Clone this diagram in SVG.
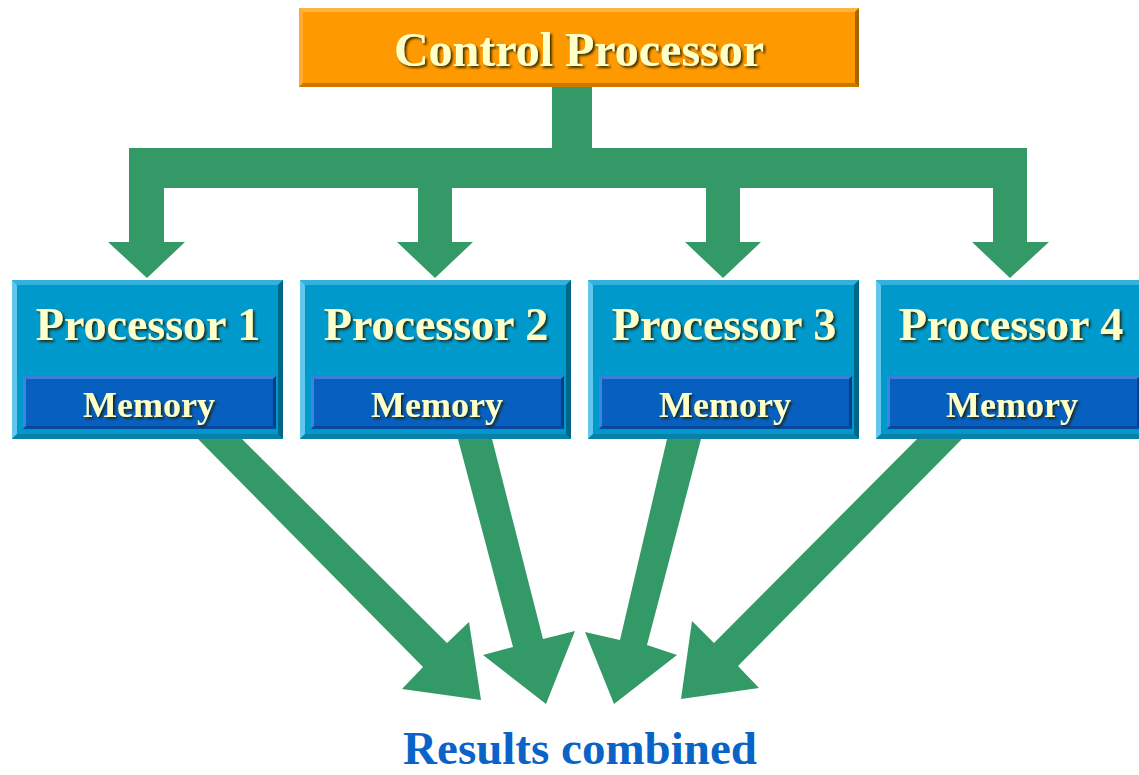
<svg xmlns="http://www.w3.org/2000/svg" xmlns:xlink="http://www.w3.org/1999/xlink" width="1139" height="775" viewBox="0 0 1139 775">
<style>
.lbl{font-family:"Liberation Serif","Times New Roman",serif;font-weight:bold;fill:#FFFFC8;text-anchor:middle;filter:url(#shadow);}
.big{font-size:46px;}
.mem{font-size:36px;}
.res{font-family:"Liberation Serif","Times New Roman",serif;font-weight:bold;fill:#0A64C8;text-anchor:middle;font-size:47px;}
.conn{fill:#339966;}
</style>
<defs>
<filter id="shadow" x="-10%" y="-20%" width="120%" height="150%">
<feDropShadow dx="2" dy="2" stdDeviation="1" flood-color="#1a1a00" flood-opacity="0.85"/>
</filter>
<g id="procFrame">
<rect x="0" y="0" width="271" height="159" fill="#0099CC"/>
<polygon points="0,0 271,0 266,5 5,5" fill="#33B0DD"/>
<polygon points="0,0 5,5 5,154 0,159" fill="#66C6E8"/>
<polygon points="271,0 271,159 266,154 266,5" fill="#006688"/>
<polygon points="0,159 271,159 266,154 5,154" fill="#0A7FA8"/>
</g>
<g id="memFrame">
<rect x="0" y="0" width="253" height="53" fill="#0760C0"/>
<polygon points="0,0 253,0 250,3 3,3" fill="#3A80D6"/>
<polygon points="0,0 3,3 3,50 0,53" fill="#3D85DA"/>
<polygon points="253,0 253,53 250,50 250,3" fill="#073F8C"/>
<polygon points="0,53 253,53 250,50 3,50" fill="#06489E"/>
</g>
</defs>
<rect width="1139" height="775" fill="#FFFFFF"/>

<g id="connectors">
<path class="conn" d="M552,86 H592 V148 H1027 V188 H129 V148 H552 Z"/>
<polygon class="conn" points="129,186 164,186 164,242 185,242 147,278 108,242 129,242"/>
<polygon class="conn" points="418,186 452,186 452,242 473,242 435,278 397,242 418,242"/>
<polygon class="conn" points="706,186 740,186 740,242 761,242 723,278 685,242 706,242"/>
<polygon class="conn" points="993,186 1027,186 1027,242 1049,242 1010,278 972,242 993,242"/>
<polygon class="conn" points="198,439 242,439 447,643 469,622 481,700 402,689 423,667"/>
<polygon class="conn" points="458,439 492,439 543,639 575,631 546,704 483,655 513,647"/>
<polygon class="conn" points="667,439 701,439 647,645 677,655 614,704 585,632 620,640"/>
<polygon class="conn" points="917,439 962,439 738,666 759,688 681,699 692,621 714,643"/>
</g>

<g id="control">
<rect x="299" y="8" width="560" height="79" fill="#FF9900"/>
<polygon points="299,8 859,8 855,12 303,12" fill="#FFB347"/>
<polygon points="299,8 303,12 303,83 299,87" fill="#FFAA33"/>
<polygon points="859,8 859,87 855,83 855,12" fill="#A86400"/>
<polygon points="299,87 859,87 855,83 303,83" fill="#CC7700"/>
<text class="lbl" x="579" y="66" font-size="48">Control Processor</text>
</g>

<g id="proc1">
<use xlink:href="#procFrame" x="12" y="280"/>
<use xlink:href="#memFrame" x="23" y="376"/>
<text class="lbl big" x="148" y="340">Processor 1</text>
<text class="lbl mem" x="149" y="417">Memory</text>
</g>

<g id="proc2">
<use xlink:href="#procFrame" x="300" y="280"/>
<use xlink:href="#memFrame" x="311" y="376"/>
<text class="lbl big" x="436" y="340">Processor 2</text>
<text class="lbl mem" x="437" y="417">Memory</text>
</g>

<g id="proc3">
<use xlink:href="#procFrame" x="588" y="280"/>
<use xlink:href="#memFrame" x="599" y="376"/>
<text class="lbl big" x="724" y="340">Processor 3</text>
<text class="lbl mem" x="725" y="417">Memory</text>
</g>

<g id="proc4">
<use xlink:href="#procFrame" x="876" y="280"/>
<use xlink:href="#memFrame" x="887" y="376"/>
<text class="lbl big" x="1011" y="340">Processor 4</text>
<text class="lbl mem" x="1012" y="417">Memory</text>
</g>

<g id="result">
<text class="res" x="580" y="764">Results combined</text>
</g>
</svg>
